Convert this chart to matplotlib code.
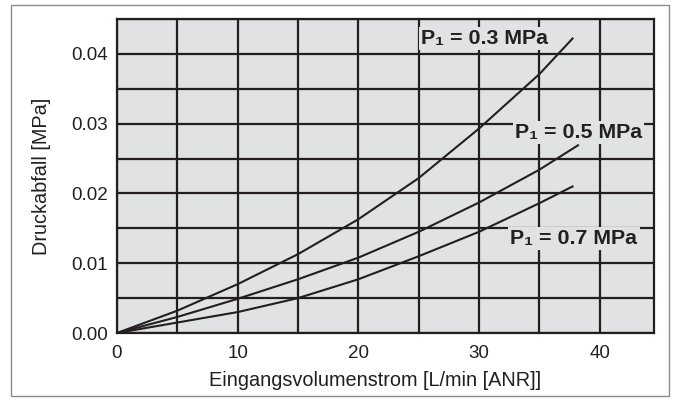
import matplotlib
matplotlib.use("Agg")
import matplotlib.pyplot as plt
from matplotlib.patches import Rectangle
from matplotlib.ticker import MultipleLocator

plt.rcParams["font.family"] = ["Liberation Sans", "DejaVu Sans"]

# ── data ──────────────────────────────────────────────────────────────────
flow_03 = [0, 5, 10, 15, 20, 25, 30, 35, 37.75]
drop_03 = [0, 0.0032, 0.0070, 0.0113, 0.0163, 0.0222, 0.0293, 0.0371, 0.0422]

flow_05 = [0, 5, 10, 15, 20, 25, 30, 35, 38.2]
drop_05 = [0, 0.0023, 0.0049, 0.0077, 0.0108, 0.0145, 0.0187, 0.0234, 0.0269]

flow_07 = [0, 5, 10, 15, 20, 25, 30, 35, 37.75]
drop_07 = [0, 0.0015, 0.0030, 0.0050, 0.0077, 0.0110, 0.0145, 0.0186, 0.0210]

labels = ["P\u2081 = 0.3 MPa", "P\u2081 = 0.5 MPa", "P\u2081 = 0.7 MPa"]
label_pos = [(25.2, 0.0414), (33.0, 0.0279), (32.6, 0.01275)]

INK = "#231f20"
PANEL = "#e1e2e4"

fig = plt.figure(figsize=(6.74, 4.0), dpi=100)
ax = fig.add_axes([117 / 674, 67 / 400, 537 / 674, 314 / 400])
ax.set_facecolor(PANEL)

for x, y in ((flow_03, drop_03), (flow_05, drop_05), (flow_07, drop_07)):
    ax.plot(x, y, color=INK, lw=1.5, zorder=3)

for text, (tx, ty) in zip(labels, label_pos):
    ax.text(tx, ty, text, fontsize=15.4, fontweight="bold", color=INK,
            ha="left", va="baseline", zorder=4,
            bbox=dict(facecolor=PANEL, edgecolor="none", pad=1.5))

ax.set_xlim(0, 44.5)
ax.set_ylim(0, 0.045)
ax.xaxis.set_major_locator(MultipleLocator(10))
ax.xaxis.set_minor_locator(MultipleLocator(5))
ax.yaxis.set_major_locator(MultipleLocator(0.01))
ax.yaxis.set_minor_locator(MultipleLocator(0.005))
ax.yaxis.set_major_formatter(lambda v, pos: f"{v:.2f}")
ax.grid(which="both", color=INK, lw=1.6, zorder=1)
ax.set_axisbelow(True)
ax.tick_params(which="both", length=0, labelsize=13.5, labelcolor=INK)
ax.tick_params(axis="y", pad=6.5)
ax.tick_params(axis="x", pad=8.5)
for s in ax.spines.values():
    s.set_color(INK)
    s.set_linewidth(1.6)

ax.set_xlabel("Eingangsvolumenstrom [L/min [ANR]]", fontsize=14.3, color=INK)
ax.xaxis.set_label_coords(0.481, -0.15, transform=ax.transAxes)
ax.xaxis.label.set_va("center")
ax.set_ylabel("Druckabfall [MPa]", fontsize=14.3, color=INK, labelpad=14.5)

fig.patches.append(Rectangle((11 / 674, 4 / 400), 658 / 674, 391 / 400,
                             transform=fig.transFigure, fill=False,
                             edgecolor="#8c8c8c", lw=1.0))

fig.savefig("out.png", dpi=100)
